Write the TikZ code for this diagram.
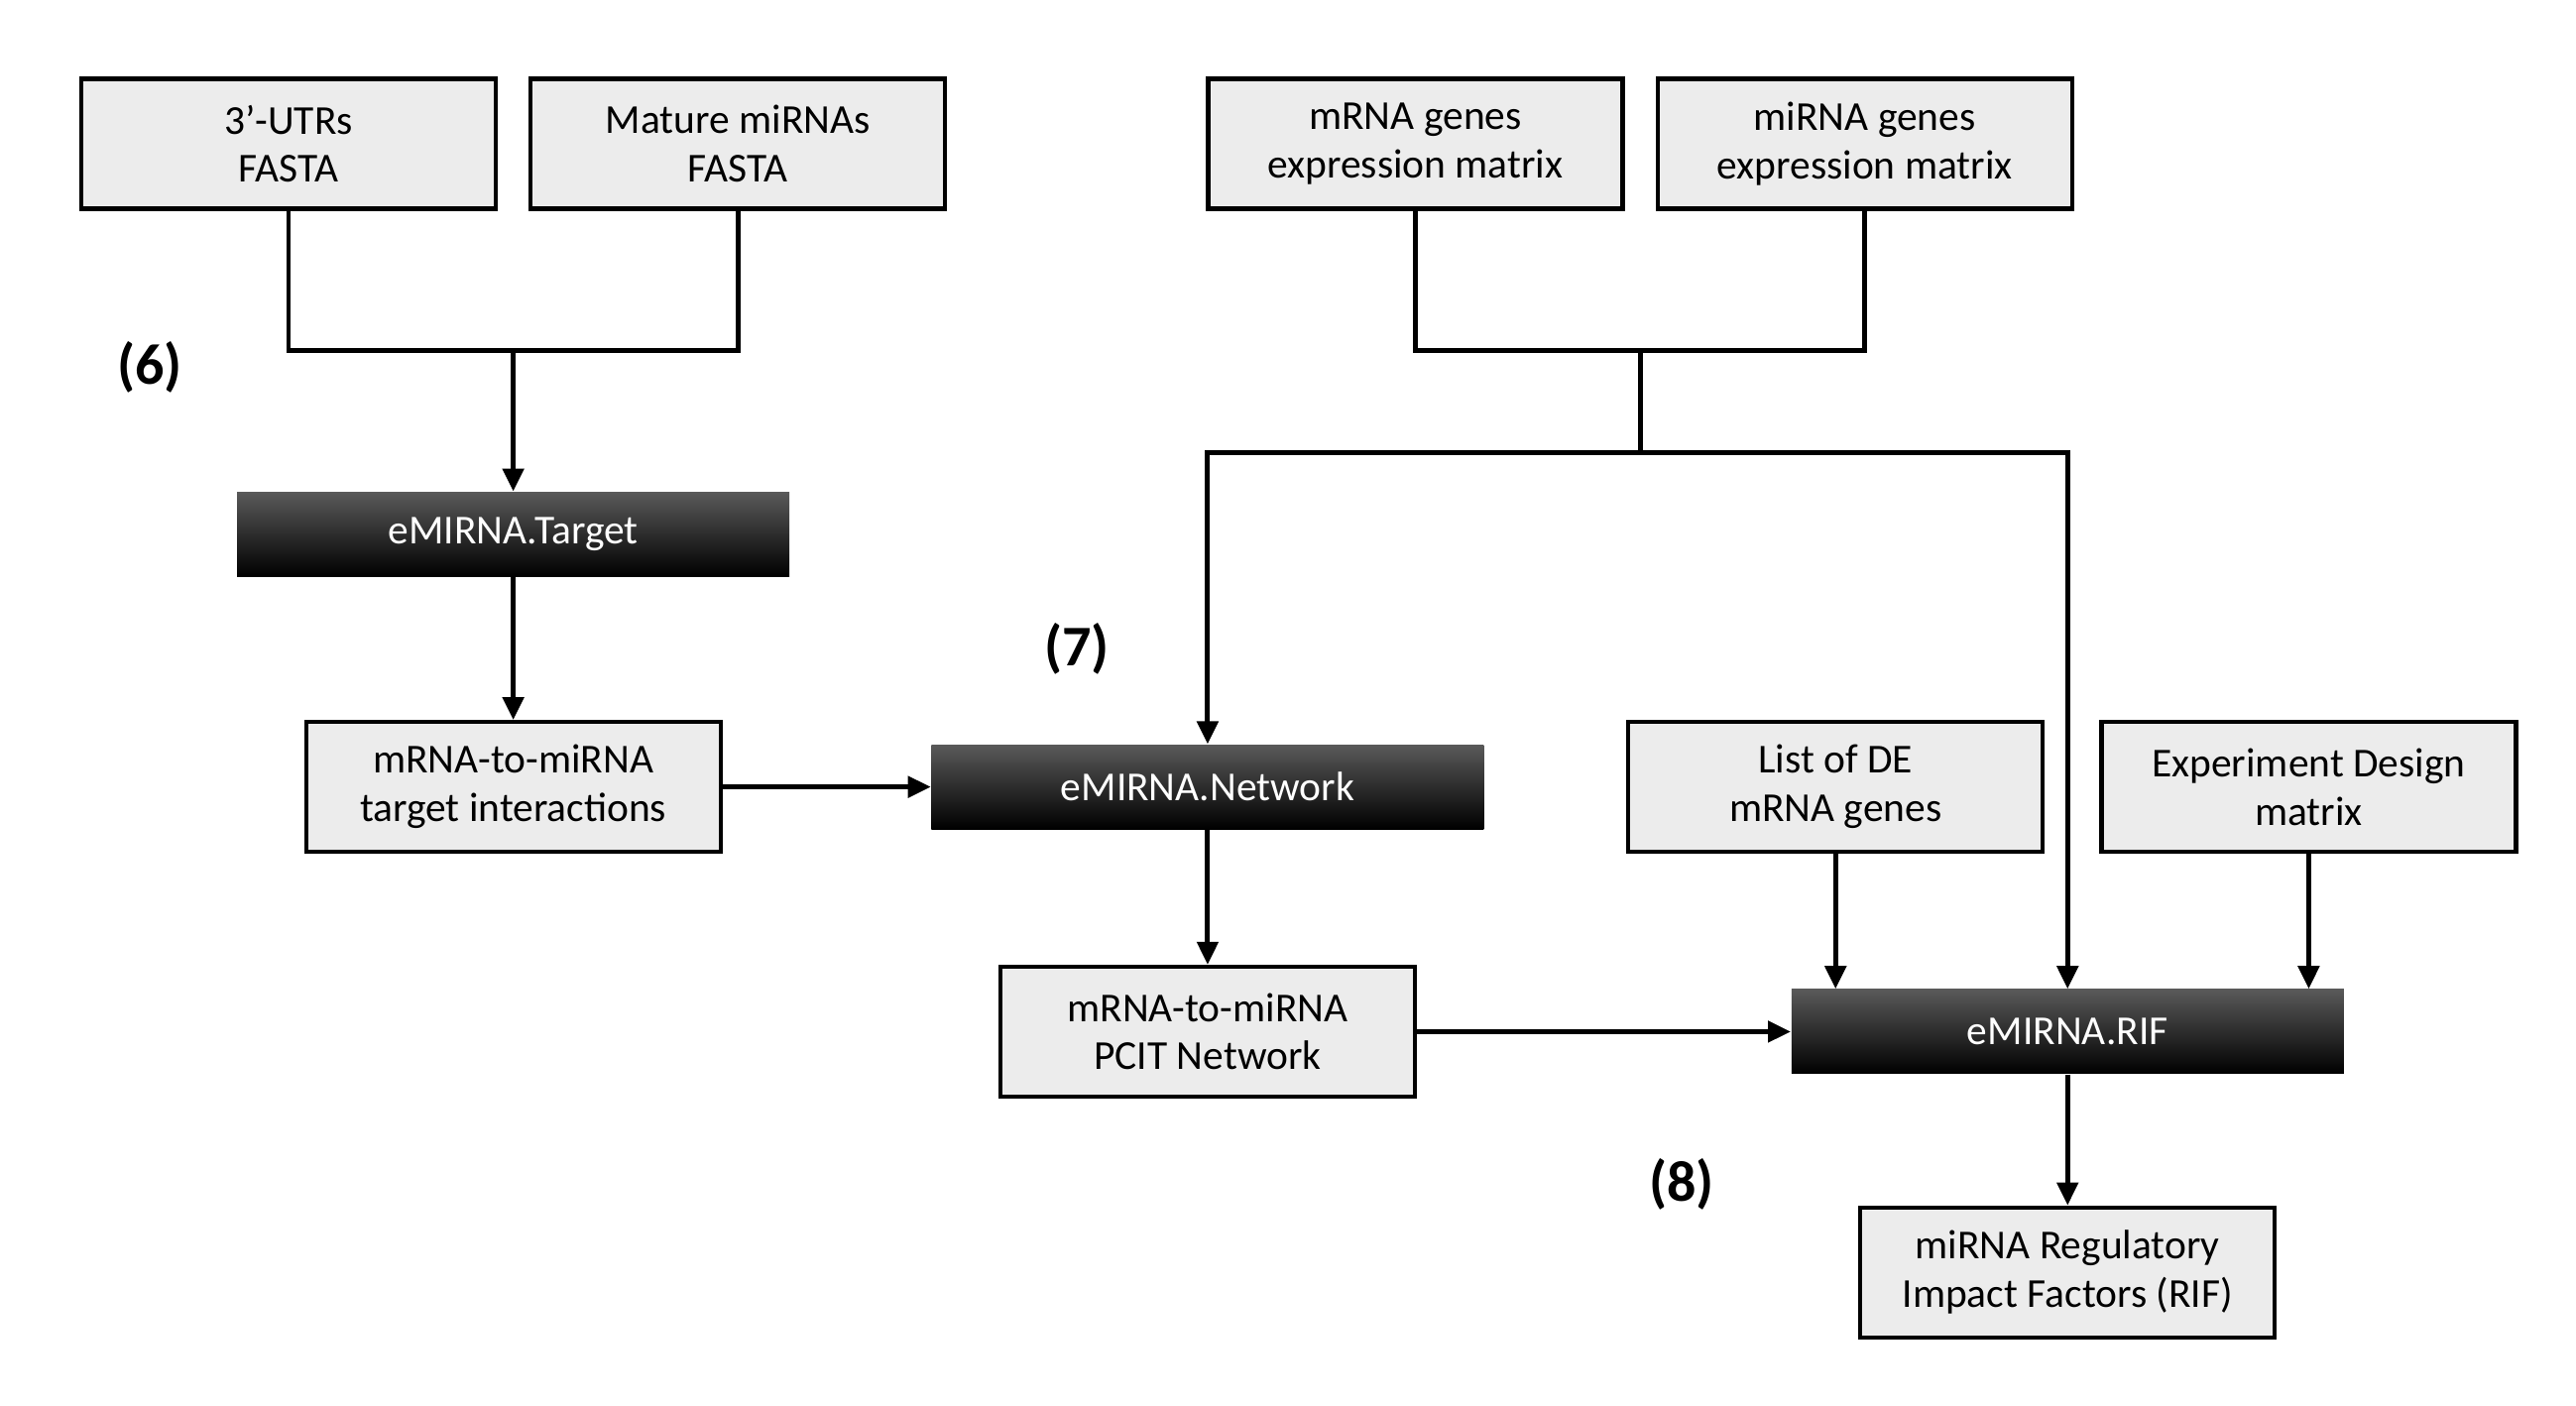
\documentclass[tikz,border=0pt]{standalone}
\usepackage{fontspec}
\setmainfont{Carlito}
\usepackage{tikz}
\usetikzlibrary{positioning}
\usetikzlibrary{arrows.meta}
\usetikzlibrary{calc}

\tikzset{
  databox/.style={draw, line width=1.2pt, fill=gray!15, minimum width=4.18cm, minimum height=1.31cm,
    align=center, font=\fontsize{11.8}{13.9}\selectfont, inner sep=0pt},
  toolbox/.style={minimum width=5.57cm, minimum height=0.85cm, shading=axis, top color=black!65,
    middle color=black, bottom color=black, text=white, font=\fontsize{11.8}{13.9}\selectfont, inner sep=0pt},
  link/.style={line width=1.4pt},
  arr/.style={line width=1.4pt, -{Triangle[length=0.23cm, width=0.21cm]}},
  steplabel/.style={font=\fontsize{16.5}{18}\selectfont\bfseries}
}

\begin{document}
\begin{tikzpicture}
  \useasboundingbox (0,0) rectangle (25.98,-14.17);
  % nodes %
  \node[databox] (utr) at (2.91,-1.45) {3’-UTRs\\FASTA};
  \node[databox, right=0.31 of utr] (mat) {Mature miRNAs\\FASTA};
  \node[databox, right=2.61 of mat] (mrna) {mRNA genes\\expression matrix};
  \node[databox, right=0.31 of mrna] (mirna) {miRNA genes\\expression matrix};
  \node[toolbox, below=2.83 of $(utr.south)!.5!(mat.south)$] (target) {eMIRNA.Target};
  \node[databox, below=1.44 of target] (inter) {mRNA-to-miRNA\\target interactions};
  \node[toolbox, right=2.10 of inter] (net) {eMIRNA.Network};
  \node[databox, below=1.36 of net] (pcit) {mRNA-to-miRNA\\PCIT Network};
  \node[toolbox, right=3.77 of pcit] (rif) {eMIRNA.RIF};
  \node[databox, below=1.32 of rif] (out) {miRNA Regulatory\\Impact Factors (RIF)};
  \node[databox, right=1.43 of net] (de) {List of DE\\mRNA genes};
  \node[databox, right=0.55 of de] (exp) {Experiment Design\\matrix};
  % step labels %
  \node[steplabel] (s6) at (1.51,-3.70) {(6)};
  \node[steplabel] (s7) at (10.86,-6.54) {(7)};
  \node[steplabel] (s8) at (16.96,-11.94) {(8)};
  % forks %
  \coordinate (fork1) at ($(utr.south)!.5!(mat.south)+(0,-1.41)$);
  \coordinate (fork2) at ($(mrna.south)!.5!(mirna.south)+(0,-1.41)$);
  \coordinate (fork3) at ($(fork2)+(0,-1.03)$);
  % edges %
  \draw[link] (utr.south) |- (fork1) -| (mat.south);
  \draw[arr] (fork1) -- (target);
  \draw[arr] (target) -- (inter);
  \draw[arr] (inter) -- (net);
  \draw[link] (mrna.south) |- (fork2) -| (mirna.south);
  \draw[link] (fork2) -- (fork3);
  \draw[arr] (fork3) -| (net.north);
  \draw[arr] (fork3) -| (rif.north);
  \draw[arr] (net) -- (pcit);
  \draw[arr] (pcit) -- (rif);
  \draw[arr] (de.south) -- (de.south |- rif.north);
  \draw[arr] (exp.south) -- (exp.south |- rif.north);
  \draw[arr] (rif) -- (out);
\end{tikzpicture}
\end{document}
